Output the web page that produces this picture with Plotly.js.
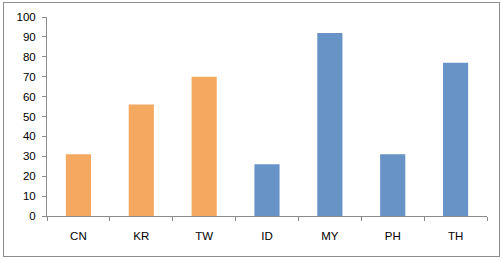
<!DOCTYPE html>
<html>
<head>
<meta charset="utf-8">
<script src="https://cdn.plot.ly/plotly-3.0.1.min.js"></script>
<style>
html,body{margin:0;padding:0;background:#fff;}
#wrap{position:relative;width:503px;height:260px;}
#chart{width:503px;height:260px;}
#frame{position:absolute;left:3px;top:2px;width:495px;height:253px;border:1px solid #8c8c8c;pointer-events:none;}
</style>
</head>
<body>
<div id="wrap"><div id="chart"></div><div id="frame"></div></div>
<script>
const categories = ["CN", "KR", "TW", "ID", "MY", "PH", "TH"];
const values = [31, 56, 70, 26, 92, 31, 77];
const groups = ["A", "A", "A", "B", "B", "B", "B"];
const groupColors = {A: "#F5A85F", B: "#6893C7"};
const yTicks = [0, 10, 20, 30, 40, 50, 60, 70, 80, 90, 100];

Plotly.newPlot("chart", [{
  type: "bar",
  x: categories,
  y: values,
  marker: {color: groups.map(g => groupColors[g]), line: {width: 0}},
  hoverinfo: "skip"
}], {
  width: 503, height: 260,
  margin: {l: 47, r: 16, t: 17, b: 44},
  paper_bgcolor: "rgba(0,0,0,0)",
  plot_bgcolor: "#fff",
  bargap: 0.6,
  showlegend: false,
  font: {family: "Liberation Sans, Arial, sans-serif", size: 11.5, color: "#000"},
  xaxis: {
    type: "category",
    showline: true, linecolor: "#8c8c8c", linewidth: 1,
    ticks: "outside", tickson: "boundaries", ticklen: 4, tickcolor: "#8c8c8c",
    showgrid: false, zeroline: false,
    ticklabelstandoff: 9,
    tickfont: {size: 11.5}
  },
  yaxis: {
    range: [0, 100],
    tickvals: yTicks,
    showline: true, linecolor: "#8c8c8c", linewidth: 1,
    ticks: "outside", ticklen: 4, tickcolor: "#8c8c8c",
    showgrid: false, zeroline: false,
    ticklabelstandoff: 4,
    tickfont: {size: 11.5}
  }
}, {displayModeBar: false, staticPlot: true});
</script>
</body>
</html>
